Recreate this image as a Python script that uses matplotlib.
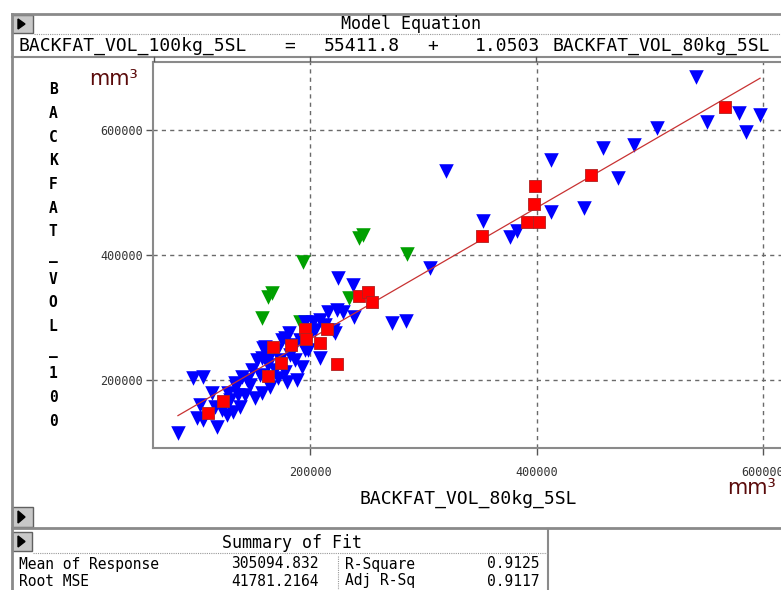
import matplotlib
matplotlib.use("Agg")
import matplotlib.pyplot as plt
from matplotlib.patches import Rectangle, Polygon

# fitted model
intercept = 55411.8
slope = 1.0503

blue_x = [540800, 550600, 578800, 585000, 597400, 506400, 486100, 458700, 472000, 412800,
          441900, 412800, 352800, 376600, 382800, 320100, 306000, 272400, 284800, 224700,
          238000, 238900, 215900, 223800, 229100, 202600, 208800, 195600, 222100, 208800,
          192900, 179700, 188500, 181500, 177900, 170900, 158500, 157600, 148800, 164700,
          151400, 144400, 134700, 96700, 105500, 113500, 102900, 100200, 105500, 117900,
          126700, 138200, 83400, 132000, 140000, 153200, 157600, 127600, 116100, 122300,
          133800, 160300, 142600, 147000, 169100, 173500, 182300, 186800, 191200, 200000,
          204400, 213200, 155900, 162900, 129400, 136400, 186800, 195600, 177900, 171700,
          220300, 198200, 175300, 162900]
blue_y = [684800, 612800, 627200, 596800, 624000, 603200, 576000, 571200, 523200, 552000,
          475200, 468800, 454400, 428800, 438400, 534400, 379200, 291200, 294400, 363200,
          352000, 300800, 308800, 312000, 308800, 292800, 296000, 292800, 275200, 235200,
          220800, 196800, 200000, 275200, 267200, 248000, 251200, 235200, 216000, 188800,
          171200, 200000, 188800, 203200, 204800, 179200, 160000, 139200, 136000, 124800,
          144000, 156800, 115200, 148800, 204800, 232000, 179200, 179200, 156800, 152000,
          195200, 252800, 176000, 192000, 216000, 232000, 240000, 256000, 264000, 272000,
          280000, 288000, 208000, 224000, 168000, 176000, 232000, 248000, 212800, 203200,
          280000, 248000, 264000, 232000]

red_x = [566400, 448100, 398700, 397800, 391600, 402200, 351900, 243300, 251200, 254700,
         215000, 195600, 196500, 208800, 183200, 167300, 174400, 162900, 223800, 123200,
         109900]
red_y = [636800, 528000, 510400, 481600, 452800, 452800, 430400, 334400, 340800, 324800,
         281600, 281600, 265600, 259200, 256000, 252800, 227200, 206400, 225600, 166400,
         147200]

green_x = [157600, 162900, 166400, 193800, 191200, 234400, 243300, 246800, 285700]
green_y = [299200, 332800, 339200, 388800, 292800, 331200, 427200, 432000, 401600]

ticks = [200000, 400000, 600000]
x_label = "BACKFAT_VOL_80kg_5SL"
y_label = "BACKFAT_VOL_100"

W, H = 781, 590
fig = plt.figure(figsize=(W / 100, H / 100), dpi=100)
fig.patch.set_facecolor("white")

mono = "DejaVu Sans Mono"
gray = "#8a8a8a"

# plot area (right edge runs just past the screenshot)
ax = fig.add_axes([153 / W, 1 - 448 / H, (786 - 153) / W, (448 - 62) / H])
ax.set_xlim(61370, 620300)
ax.set_ylim(91200, 708800)

ax.scatter(green_x, green_y, marker="v", s=110, color="#00a000", linewidths=0, zorder=2)
ax.scatter(blue_x, blue_y, marker="v", s=110, color="#0000ff", linewidths=0, zorder=3)
all_x = blue_x + red_x + green_x
lx = [min(all_x), max(all_x)]
ax.plot(lx, [intercept + slope * v for v in lx], color="#c83232", lw=0.9, zorder=4)
ax.scatter(red_x, red_y, marker="s", s=80, color="#ff0000", edgecolors="#b02020",
           linewidths=0.6, zorder=5)

ax.set_xticks(ticks)
ax.set_yticks(ticks)
ax.set_xticklabels([str(t) for t in ticks], family=mono, fontsize=8.5, color="#333333")
ax.set_yticklabels([str(t) for t in ticks], family=mono, fontsize=8.5, color="#333333")
ax.tick_params(direction="out", length=5, width=1, color="#555555", pad=2)
ax.tick_params(axis="x", pad=8)
ax.grid(True, color="#6a6a6a", lw=1, linestyle=(0, (3, 3)))
ax.set_axisbelow(True)
for sp in ax.spines.values():
    sp.set_color(gray)
    sp.set_linewidth(1.5)

# overlay in pixel coordinates for the window chrome
ov = fig.add_axes([0, 0, 1, 1], zorder=10)
ov.set_xlim(0, W)
ov.set_ylim(H, 0)
ov.axis("off")
ov.patch.set_alpha(0)


def button(x0, y0, w, h):
    ov.add_patch(Rectangle((x0, y0), w, h, facecolor="#c8c8c8", edgecolor="#606060", lw=1))
    ov.add_patch(Polygon([(x0 + 6, y0 + 4), (x0 + 6, y0 + h - 4), (x0 + 13, y0 + h / 2)],
                         closed=True, color="black"))


# header block
ov.plot([12, W], [14, 14], color=gray, lw=2)
ov.plot([12, 12], [14, H], color=gray, lw=2)
button(12, 15, 21, 18)
ov.text(411, 24, "Model Equation", family=mono, fontsize=12, ha="center", va="center")
ov.plot([34, W], [34, 34], color="#999999", lw=0.8, linestyle=(0, (1, 1)))
ov.text(19, 46, "BACKFAT_VOL_100kg_5SL", family=mono, fontsize=13, ha="left", va="center")
ov.text(290, 46, "=", family=mono, fontsize=13, ha="center", va="center")
ov.text(362, 46, "55411.8", family=mono, fontsize=13, ha="center", va="center")
ov.text(433, 46, "+", family=mono, fontsize=13, ha="center", va="center")
ov.text(540, 46, "1.0503", family=mono, fontsize=13, ha="right", va="center")
ov.text(552, 46, "BACKFAT_VOL_80kg_5SL", family=mono, fontsize=13, ha="left", va="center")
ov.plot([12, W], [57, 57], color=gray, lw=1.5)
for tx in [154, 310, 536]:
    ov.plot([tx, tx], [57, 61], color="#555555", lw=1)

# axis titles
step = (421 - 90) / (len(y_label) - 1)
for i, ch in enumerate(y_label):
    ov.text(53, 90 + i * step, ch, family=mono, fontsize=10.5, weight="bold",
            ha="center", va="center")
ov.text(89, 79, "mm³", fontsize=15, color="#5a0a0a", ha="left", va="center")
ov.text(727, 488, "mm³", fontsize=15, color="#5a0a0a", ha="left", va="center")
ov.text(468, 499, x_label, family=mono, fontsize=13, ha="center", va="center")

# summary of fit block
button(12, 507, 21, 20)
ov.plot([12, W], [528, 528], color=gray, lw=2)
ov.plot([548, 548], [529, H], color=gray, lw=1.5)
button(12, 532, 20, 19)
ov.text(292, 543, "Summary of Fit", family=mono, fontsize=12, ha="center", va="center")
ov.plot([33, 548], [553, 553], color="#999999", lw=0.8, linestyle=(0, (1, 1)))
ov.plot([338, 338], [556, H], color="#999999", lw=0.8, linestyle=(0, (1, 1)))
rows = [("Mean of Response", "305094.832", "R-Square", "0.9125"),
        ("Root MSE", "41781.2164", "Adj R-Sq", "0.9117")]
for j, (a, b, c, d) in enumerate(rows):
    yy = 564 + j * 17
    ov.text(19, yy, a, family=mono, fontsize=10.5, ha="left", va="center")
    ov.text(319, yy, b, family=mono, fontsize=10.5, ha="right", va="center")
    ov.text(345, yy, c, family=mono, fontsize=10.5, ha="left", va="center")
    ov.text(539, yy, d, family=mono, fontsize=10.5, ha="right", va="center")

fig.savefig("out.png", dpi=100)
